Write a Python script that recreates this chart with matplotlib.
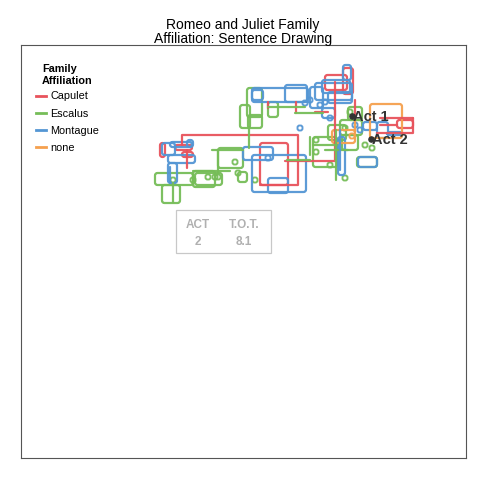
import matplotlib
matplotlib.use("Agg")
import matplotlib.pyplot as plt
from matplotlib.patches import FancyBboxPatch, Rectangle
from matplotlib.lines import Line2D

plt.rcParams['font.family'] = ['Liberation Sans', 'DejaVu Sans']

# all coordinates are in the drawing's own units (x right, y down)
families = ["Capulet", "Escalus", "Montague", "none"]
colors = {"Capulet": "#E8535C", "Escalus": "#76BD58", "Montague": "#5496D4", "none": "#F5A04E"}

# boxes drawn by the sentence walk: (x0, y0, x1, y1)
capulet_boxes = [(260, 143, 288, 185), (175, 145, 192, 150), (160, 143, 165, 157),
                 (397, 120, 413, 128), (343, 68, 353, 94), (325, 75, 347, 90),
                 (182, 152, 193, 157)]
escalus_boxes = [(247, 88, 262, 117), (240, 105, 250, 128), (248, 115, 262, 128),
                 (268, 102, 278, 117), (155, 173, 193, 185), (162, 185, 180, 203),
                 (193, 171, 215, 187), (195, 173, 222, 185), (218, 148, 243, 168),
                 (238, 172, 247, 182), (313, 137, 337, 167), (357, 157, 377, 167),
                 (340, 120, 362, 135), (348, 107, 362, 120), (328, 125, 346, 140),
                 (342, 135, 358, 150)]
montague_boxes = [(252, 88, 308, 102), (285, 85, 307, 102), (310, 87, 323, 108),
                  (252, 90, 263, 100), (322, 80, 350, 93), (343, 65, 351, 80),
                  (315, 83, 352, 100), (328, 92, 352, 103), (162, 143, 175, 155),
                  (170, 142, 192, 147), (168, 155, 195, 163), (168, 163, 177, 183),
                  (187, 140, 193, 147), (252, 155, 306, 192), (243, 147, 273, 160),
                  (268, 178, 288, 193), (363, 122, 377, 130), (377, 122, 388, 138),
                  (387, 132, 402, 135), (358, 157, 377, 167), (322, 108, 335, 118),
                  (338, 137, 345, 175)]
none_boxes = [(332, 130, 355, 143), (370, 104, 402, 138)]

# open strokes: lists of (x, y) vertices
capulet_lines = [[(182, 145), (182, 135), (298, 135), (298, 185), (260, 185)],
                 [(187, 150), (187, 168)], [(285, 161), (335, 161), (335, 82)],
                 [(268, 102), (268, 108)], [(296, 102), (296, 113)],
                 [(355, 100), (355, 120)], [(380, 118), (413, 118)],
                 [(380, 125), (397, 125)], [(377, 133), (413, 133), (413, 118)],
                 [(315, 112), (328, 112)]]
escalus_lines = [[(249, 128), (249, 148)], [(212, 150), (243, 150)],
                 [(268, 107), (305, 107)], [(295, 113), (323, 113)],
                 [(287, 160), (310, 160)], [(310, 137), (310, 155)],
                 [(218, 150), (218, 173)], [(336, 130), (336, 180)],
                 [(313, 145), (337, 145)], [(325, 150), (348, 150)],
                 [(193, 171), (230, 171)], [(173, 183), (173, 202)]]
montague_lines = [[(170, 167), (170, 183)], [(340, 130), (340, 170)]]
none_lines = [[(355, 118), (355, 132)]]

# tiny loops: (x, y)
escalus_loops = [(193, 180), (208, 177), (215, 177), (218, 177), (235, 162), (238, 173),
                 (255, 180), (316, 140), (316, 152), (330, 165), (345, 178), (365, 145),
                 (372, 148), (350, 112), (345, 128), (173, 180)]
montague_loops = [(268, 158), (330, 118), (320, 105), (325, 102), (310, 100),
                  (305, 103), (355, 125), (360, 130), (300, 128)]
none_loops = [(352, 136)]

acts = ["Act 1", "Act 2"]
act_x = [352, 371]
act_y = [116, 139]

info_labels = ["ACT", "T.O.T."]
info_values = ["2", "8.1"]

boxes = {"Capulet": capulet_boxes, "Escalus": escalus_boxes,
         "Montague": montague_boxes, "none": none_boxes}
lines = {"Capulet": capulet_lines, "Escalus": escalus_lines,
         "Montague": montague_lines, "none": none_lines}
loops = {"Capulet": [], "Escalus": escalus_loops,
         "Montague": montague_loops, "none": none_loops}

fig = plt.figure(figsize=(4.8, 4.8), dpi=100)
ax = fig.add_axes([21 / 480, 22 / 480, 445 / 480, 413 / 480])
ax.set_xlim(21, 466)
ax.set_ylim(458, 45)
ax.set_xticks([])
ax.set_yticks([])
for s in ax.spines.values():
    s.set_color("#555555")
    s.set_linewidth(0.8)

lw = 1.6
for fam in families:
    c = colors[fam]
    for (x0, y0, x1, y1) in boxes[fam]:
        ax.add_patch(FancyBboxPatch((x0, y0), x1 - x0, y1 - y0,
                                    boxstyle="round,pad=0,rounding_size=2.5",
                                    fill=False, ec=c, lw=lw, alpha=0.95))
    for pts in lines[fam]:
        xs = [p[0] for p in pts]
        ys = [p[1] for p in pts]
        ax.plot(xs, ys, color=c, lw=lw, alpha=0.95, solid_capstyle="round",
                solid_joinstyle="round")
    for (x, y) in loops[fam]:
        ax.add_patch(FancyBboxPatch((x - 2.5, y - 2.5), 5, 5,
                                    boxstyle="round,pad=0,rounding_size=2",
                                    fill=False, ec=c, lw=lw * 0.85, alpha=0.95))

ax.scatter(act_x, act_y, s=14, color="#333333", zorder=5)
for name, x, y in zip(acts, act_x, act_y):
    ax.text(x + 1, y + 1, name, fontsize=10.5, fontweight="bold", color="#333333",
            va="center", ha="left", zorder=6)

# info box
ax.add_patch(Rectangle((176, 210), 95, 43, fill=False, ec="#c8c8c8", lw=0.9))
for i, (lab, val) in enumerate(zip(info_labels, info_values)):
    x = [198, 244][i]
    ax.text(x, 225, lab, fontsize=8.5, fontweight="bold", color="#b0b0b0", ha="center", va="center")
    ax.text(x, 242, val, fontsize=8.5, fontweight="bold", color="#b0b0b0", ha="center", va="center")

# legend
handles = [Line2D([0], [0], color=colors[f], lw=2) for f in families]
leg = ax.legend(handles, families, title="Family\nAffiliation", loc="upper left",
                bbox_to_anchor=(0.011, 0.977), frameon=False, fontsize=7.8,
                title_fontproperties={"weight": "bold", "size": 7.8},
                handlelength=0.95, handletextpad=0.4, labelspacing=0.66,
                borderaxespad=0.5)
leg._legend_box.align = "center"
leg._legend_box.sep = 4

fig.text(0.506, 0.933, "Romeo and Juliet Family\nAffiliation: Sentence Drawing",
         ha="center", va="center", fontsize=10, linespacing=1.05)

fig.savefig("out.png", dpi=100)
